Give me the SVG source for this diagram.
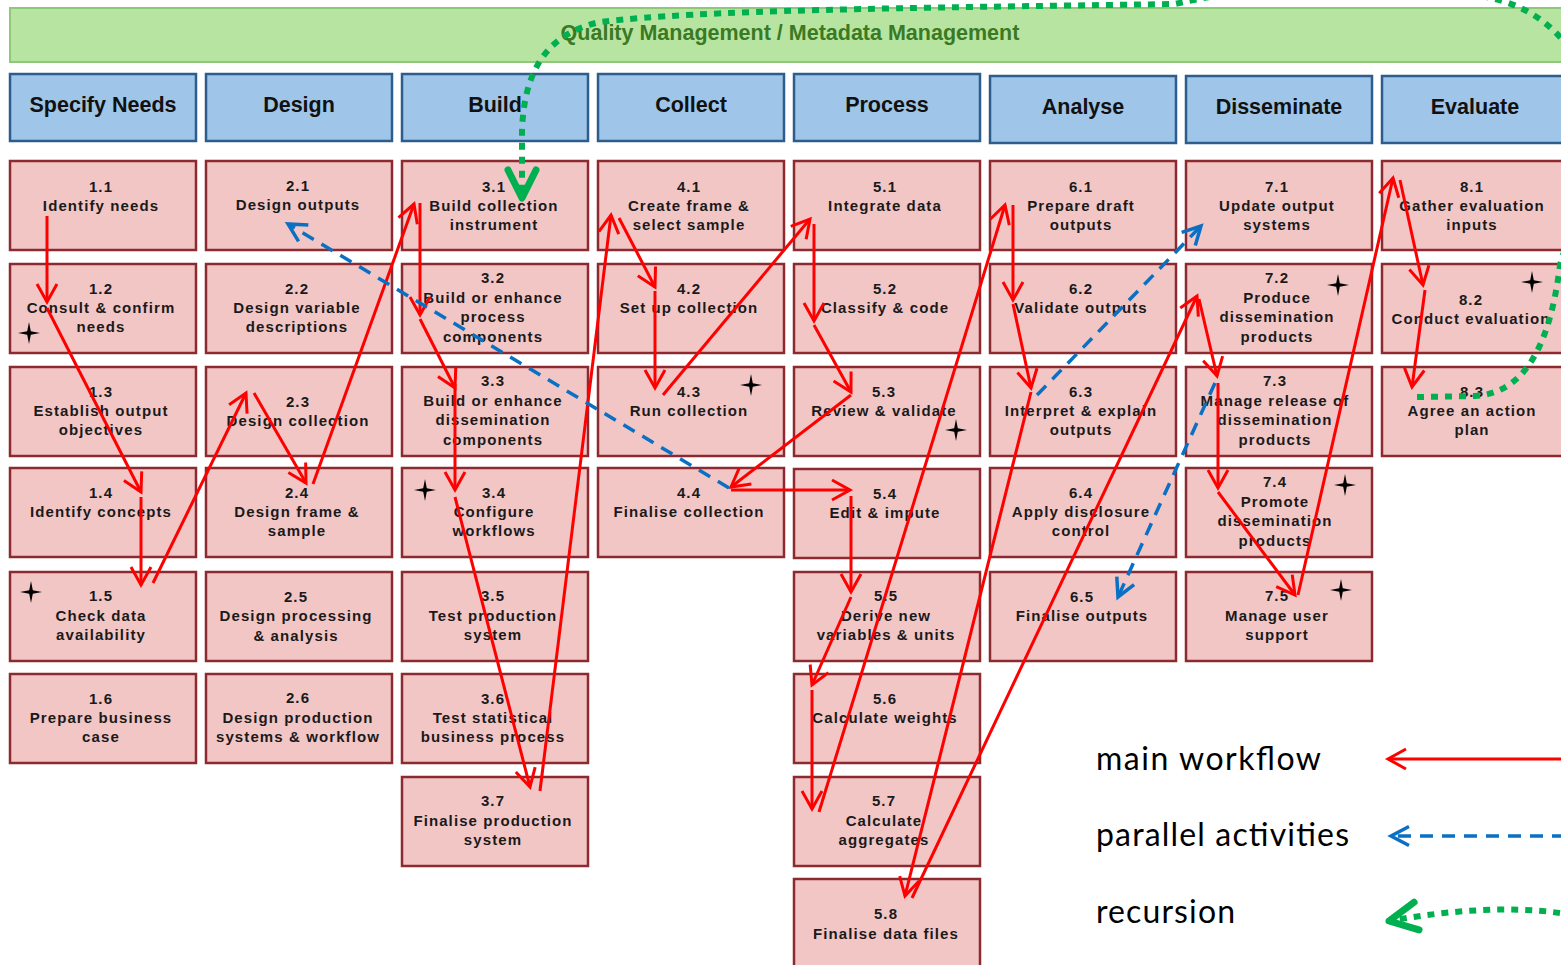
<svg xmlns="http://www.w3.org/2000/svg" width="1561" height="965" viewBox="0 0 1561 965">
<style>
.bar{fill:#b8e4a2;stroke:#8fc878;stroke-width:2}
.title{font-family:"Liberation Sans",Arial,sans-serif;font-weight:bold;font-size:21.5px;fill:#3a7a22;text-anchor:middle}
.hdr{fill:#9fc5e8;stroke:#2d5d8c;stroke-width:2.5}
.htx{font-family:"Liberation Sans",Arial,sans-serif;font-weight:bold;font-size:21.5px;fill:#111;text-anchor:middle}
.box{fill:#f3c6c6;stroke:#8c2a30;stroke-width:2.5}
.btx{font-family:"Liberation Sans",Arial,sans-serif;font-weight:bold;font-size:15px;letter-spacing:1.1px;fill:#1a1a1a;text-anchor:middle}
.star{fill:#000}
.red{fill:none;stroke:#ff0000;stroke-width:3;marker-end:url(#ar)}
.blue{fill:none;stroke:#0a70c4;stroke-width:3.5;stroke-dasharray:13 9;marker-end:url(#ab)}
.green{fill:none;stroke:#00b050;stroke-width:6;stroke-dasharray:7 7;marker-end:url(#ag)}
.leg{font-family:Lato,"Open Sans",sans-serif;font-size:32px;fill:#000}
</style>
<defs>
<marker id="ar" markerUnits="userSpaceOnUse" orient="auto" overflow="visible" markerWidth="1" markerHeight="1"><path d="M-18,-10 L0,0 L-18,10" fill="none" stroke="#ff0000" stroke-width="3"/></marker>
<marker id="ab" markerUnits="userSpaceOnUse" orient="auto" overflow="visible" markerWidth="1" markerHeight="1"><path d="M-18,-9.5 L0,0 L-18,9.5" fill="none" stroke="#0a70c4" stroke-width="3.5"/></marker>
<marker id="ag" markerUnits="userSpaceOnUse" orient="auto" overflow="visible" markerWidth="1" markerHeight="1"><path d="M-28,-14 L0,0 L-28,14" fill="none" stroke="#00b050" stroke-width="7" stroke-linecap="round" stroke-linejoin="round"/></marker>
<path id="st" d="M0,-11 L1.8,-1.8 L11,0 L1.8,1.8 L0,11 L-1.8,1.8 L-11,0 L-1.8,-1.8 Z"/>
</defs>
<rect width="1561" height="965" fill="#fff"/>

<g id="quality-bar">
<rect class="bar" x="10" y="8" width="1565" height="54"/>
<text class="title" x="790" y="40">Quality Management / Metadata Management</text>
</g>

<g id="phases">
<g id="h1"><rect class="hdr" x="10" y="74" width="186" height="67"/><text class="htx" x="103" y="112">Specify Needs</text></g>
<g id="h2"><rect class="hdr" x="206" y="74" width="186" height="67"/><text class="htx" x="299" y="112">Design</text></g>
<g id="h3"><rect class="hdr" x="402" y="74" width="186" height="67"/><text class="htx" x="495" y="112">Build</text></g>
<g id="h4"><rect class="hdr" x="598" y="74" width="186" height="67"/><text class="htx" x="691" y="112">Collect</text></g>
<g id="h5"><rect class="hdr" x="794" y="74" width="186" height="67"/><text class="htx" x="887" y="112">Process</text></g>
<g id="h6"><rect class="hdr" x="990" y="76" width="186" height="67"/><text class="htx" x="1083" y="114">Analyse</text></g>
<g id="h7"><rect class="hdr" x="1186" y="76" width="186" height="67"/><text class="htx" x="1279" y="114">Disseminate</text></g>
<g id="h8"><rect class="hdr" x="1382" y="76" width="186" height="67"/><text class="htx" x="1475" y="114">Evaluate</text></g>
</g>

<g id="n1-1"><rect class="box" x="10" y="161" width="186" height="89"/><text class="btx"><tspan x="101" y="192">1.1</tspan><tspan x="101" y="211">Identify needs</tspan></text></g>
<g id="n1-2"><rect class="box" x="10" y="264" width="186" height="89"/><text class="btx"><tspan x="101" y="294">1.2</tspan><tspan x="101" y="313">Consult &amp; confirm</tspan><tspan x="101" y="332">needs</tspan></text></g>
<g id="n1-3"><rect class="box" x="10" y="367" width="186" height="89"/><text class="btx"><tspan x="101" y="397">1.3</tspan><tspan x="101" y="416">Establish output</tspan><tspan x="101" y="435">objectives</tspan></text></g>
<g id="n1-4"><rect class="box" x="10" y="468" width="186" height="89"/><text class="btx"><tspan x="101" y="498">1.4</tspan><tspan x="101" y="517">Identify concepts</tspan></text></g>
<g id="n1-5"><rect class="box" x="10" y="572" width="186" height="89"/><text class="btx"><tspan x="101" y="601">1.5</tspan><tspan x="101" y="621">Check data</tspan><tspan x="101" y="640">availability</tspan></text></g>
<g id="n1-6"><rect class="box" x="10" y="674" width="186" height="89"/><text class="btx"><tspan x="101" y="704">1.6</tspan><tspan x="101" y="723">Prepare business</tspan><tspan x="101" y="742">case</tspan></text></g>

<g id="n2-1"><rect class="box" x="206" y="161" width="186" height="89"/><text class="btx"><tspan x="298" y="191">2.1</tspan><tspan x="298" y="210">Design outputs</tspan></text></g>
<g id="n2-2"><rect class="box" x="206" y="264" width="186" height="89"/><text class="btx"><tspan x="297" y="294">2.2</tspan><tspan x="297" y="313">Design variable</tspan><tspan x="297" y="332">descriptions</tspan></text></g>
<g id="n2-3"><rect class="box" x="206" y="367" width="186" height="89"/><text class="btx"><tspan x="298" y="407">2.3</tspan><tspan x="298" y="426">Design collection</tspan></text></g>
<g id="n2-4"><rect class="box" x="206" y="468" width="186" height="89"/><text class="btx"><tspan x="297" y="498">2.4</tspan><tspan x="297" y="517">Design frame &amp;</tspan><tspan x="297" y="536">sample</tspan></text></g>
<g id="n2-5"><rect class="box" x="206" y="572" width="186" height="89"/><text class="btx"><tspan x="296" y="602">2.5</tspan><tspan x="296" y="621">Design processing</tspan><tspan x="296" y="641">&amp; analysis</tspan></text></g>
<g id="n2-6"><rect class="box" x="206" y="674" width="186" height="89"/><text class="btx"><tspan x="298" y="703">2.6</tspan><tspan x="298" y="723">Design production</tspan><tspan x="298" y="742">systems &amp; workflow</tspan></text></g>

<g id="n3-1"><rect class="box" x="402" y="161" width="186" height="89"/><text class="btx"><tspan x="494" y="192">3.1</tspan><tspan x="494" y="211">Build collection</tspan><tspan x="494" y="230">instrument</tspan></text></g>
<g id="n3-2"><rect class="box" x="402" y="264" width="186" height="89"/><text class="btx"><tspan x="493" y="283">3.2</tspan><tspan x="493" y="303">Build or enhance</tspan><tspan x="493" y="322">process</tspan><tspan x="493" y="342">components</tspan></text></g>
<g id="n3-3"><rect class="box" x="402" y="367" width="186" height="89"/><text class="btx"><tspan x="493" y="386">3.3</tspan><tspan x="493" y="406">Build or enhance</tspan><tspan x="493" y="425">dissemination</tspan><tspan x="493" y="445">components</tspan></text></g>
<g id="n3-4"><rect class="box" x="402" y="468" width="186" height="89"/><text class="btx"><tspan x="494" y="498">3.4</tspan><tspan x="494" y="517">Configure</tspan><tspan x="494" y="536">workflows</tspan></text></g>
<g id="n3-5"><rect class="box" x="402" y="572" width="186" height="89"/><text class="btx"><tspan x="493" y="601">3.5</tspan><tspan x="493" y="621">Test production</tspan><tspan x="493" y="640">system</tspan></text></g>
<g id="n3-6"><rect class="box" x="402" y="674" width="186" height="89"/><text class="btx"><tspan x="493" y="704">3.6</tspan><tspan x="493" y="723">Test statistical</tspan><tspan x="493" y="742">business process</tspan></text></g>
<g id="n3-7"><rect class="box" x="402" y="777" width="186" height="89"/><text class="btx"><tspan x="493" y="806">3.7</tspan><tspan x="493" y="826">Finalise production</tspan><tspan x="493" y="845">system</tspan></text></g>

<g id="n4-1"><rect class="box" x="598" y="161" width="186" height="89"/><text class="btx"><tspan x="689" y="192">4.1</tspan><tspan x="689" y="211">Create frame &amp;</tspan><tspan x="689" y="230">select sample</tspan></text></g>
<g id="n4-2"><rect class="box" x="598" y="264" width="186" height="89"/><text class="btx"><tspan x="689" y="294">4.2</tspan><tspan x="689" y="313">Set up collection</tspan></text></g>
<g id="n4-3"><rect class="box" x="598" y="367" width="186" height="89"/><text class="btx"><tspan x="689" y="397">4.3</tspan><tspan x="689" y="416">Run collection</tspan></text></g>
<g id="n4-4"><rect class="box" x="598" y="468" width="186" height="89"/><text class="btx"><tspan x="689" y="498">4.4</tspan><tspan x="689" y="517">Finalise collection</tspan></text></g>

<g id="n5-1"><rect class="box" x="794" y="161" width="186" height="89"/><text class="btx"><tspan x="885" y="192">5.1</tspan><tspan x="885" y="211">Integrate data</tspan></text></g>
<g id="n5-2"><rect class="box" x="794" y="264" width="186" height="89"/><text class="btx"><tspan x="885" y="294">5.2</tspan><tspan x="885" y="313">Classify &amp; code</tspan></text></g>
<g id="n5-3"><rect class="box" x="794" y="367" width="186" height="89"/><text class="btx"><tspan x="884" y="397">5.3</tspan><tspan x="884" y="416">Review &amp; validate</tspan></text></g>
<g id="n5-4"><rect class="box" x="794" y="469" width="186" height="89"/><text class="btx"><tspan x="885" y="499">5.4</tspan><tspan x="885" y="518">Edit &amp; impute</tspan></text></g>
<g id="n5-5"><rect class="box" x="794" y="572" width="186" height="89"/><text class="btx"><tspan x="886" y="601">5.5</tspan><tspan x="886" y="621">Derive new</tspan><tspan x="886" y="640">variables &amp; units</tspan></text></g>
<g id="n5-6"><rect class="box" x="794" y="674" width="186" height="89"/><text class="btx"><tspan x="885" y="704">5.6</tspan><tspan x="885" y="723">Calculate weights</tspan></text></g>
<g id="n5-7"><rect class="box" x="794" y="777" width="186" height="89"/><text class="btx"><tspan x="884" y="806">5.7</tspan><tspan x="884" y="826">Calculate</tspan><tspan x="884" y="845">aggregates</tspan></text></g>
<g id="n5-8"><rect class="box" x="794" y="879" width="186" height="89"/><text class="btx"><tspan x="886" y="919">5.8</tspan><tspan x="886" y="939">Finalise data files</tspan></text></g>

<g id="n6-1"><rect class="box" x="990" y="161" width="186" height="89"/><text class="btx"><tspan x="1081" y="192">6.1</tspan><tspan x="1081" y="211">Prepare draft</tspan><tspan x="1081" y="230">outputs</tspan></text></g>
<g id="n6-2"><rect class="box" x="990" y="264" width="186" height="89"/><text class="btx"><tspan x="1081" y="294">6.2</tspan><tspan x="1081" y="313">Validate outputs</tspan></text></g>
<g id="n6-3"><rect class="box" x="990" y="367" width="186" height="89"/><text class="btx"><tspan x="1081" y="397">6.3</tspan><tspan x="1081" y="416">Interpret &amp; explain</tspan><tspan x="1081" y="435">outputs</tspan></text></g>
<g id="n6-4"><rect class="box" x="990" y="468" width="186" height="89"/><text class="btx"><tspan x="1081" y="498">6.4</tspan><tspan x="1081" y="517">Apply disclosure</tspan><tspan x="1081" y="536">control</tspan></text></g>
<g id="n6-5"><rect class="box" x="990" y="572" width="186" height="89"/><text class="btx"><tspan x="1082" y="602">6.5</tspan><tspan x="1082" y="621">Finalise outputs</tspan></text></g>

<g id="n7-1"><rect class="box" x="1186" y="161" width="186" height="89"/><text class="btx"><tspan x="1277" y="192">7.1</tspan><tspan x="1277" y="211">Update output</tspan><tspan x="1277" y="230">systems</tspan></text></g>
<g id="n7-2"><rect class="box" x="1186" y="264" width="186" height="89"/><text class="btx"><tspan x="1277" y="283">7.2</tspan><tspan x="1277" y="303">Produce</tspan><tspan x="1277" y="322">dissemination</tspan><tspan x="1277" y="342">products</tspan></text></g>
<g id="n7-3"><rect class="box" x="1186" y="367" width="186" height="89"/><text class="btx"><tspan x="1275" y="386">7.3</tspan><tspan x="1275" y="406">Manage release of</tspan><tspan x="1275" y="425">dissemination</tspan><tspan x="1275" y="445">products</tspan></text></g>
<g id="n7-4"><rect class="box" x="1186" y="468" width="186" height="89"/><text class="btx"><tspan x="1275" y="487">7.4</tspan><tspan x="1275" y="507">Promote</tspan><tspan x="1275" y="526">dissemination</tspan><tspan x="1275" y="546">products</tspan></text></g>
<g id="n7-5"><rect class="box" x="1186" y="572" width="186" height="89"/><text class="btx"><tspan x="1277" y="601">7.5</tspan><tspan x="1277" y="621">Manage user</tspan><tspan x="1277" y="640">support</tspan></text></g>

<g id="n8-1"><rect class="box" x="1382" y="161" width="186" height="89"/><text class="btx"><tspan x="1472" y="192">8.1</tspan><tspan x="1472" y="211">Gather evaluation</tspan><tspan x="1472" y="230">inputs</tspan></text></g>
<g id="n8-2"><rect class="box" x="1382" y="264" width="186" height="89"/><text class="btx"><tspan x="1471" y="305">8.2</tspan><tspan x="1471" y="324">Conduct evaluation</tspan></text></g>
<g id="n8-3"><rect class="box" x="1382" y="367" width="186" height="89"/><text class="btx"><tspan x="1472" y="397">8.3</tspan><tspan x="1472" y="416">Agree an action</tspan><tspan x="1472" y="435">plan</tspan></text></g>

<g id="stars" class="star">
<use href="#st" x="29" y="333"/>
<use href="#st" x="31" y="592"/>
<use href="#st" x="425" y="490"/>
<use href="#st" x="751" y="385"/>
<use href="#st" x="956" y="430"/>
<use href="#st" x="1338" y="285"/>
<use href="#st" x="1345" y="485"/>
<use href="#st" x="1341" y="590"/>
<use href="#st" x="1532" y="282"/>
</g>

<g id="connectors">
<path class="red" d="M47,216 L47,302"/>
<path class="red" d="M47,308 L141,492"/>
<path class="red" d="M141,497 L141,585"/>
<path class="red" d="M153,583 L246,393"/>
<path class="red" d="M254,393 L306,483"/>
<path class="red" d="M313,484 L414,204"/>
<path class="red" d="M420,203 L420,315"/>
<path class="red" d="M420,319 L455,388"/>
<path class="red" d="M455,384 L455,490"/>
<path class="red" d="M455,497 L530,787"/>
<path class="red" d="M540,791 L611,215"/>
<path class="red" d="M619,218 L655,287"/>
<path class="red" d="M655,291 L655,388"/>
<path class="red" d="M663,395 L810,219"/>
<path class="red" d="M814,224 L814,321"/>
<path class="red" d="M814,325 L851,392"/>
<path class="red" d="M851,395 L731,487"/>
<path class="red" d="M731,490 L850,490"/>
<path class="red" d="M851,496 L851,592"/>
<path class="red" d="M851,597 L812,685"/>
<path class="red" d="M812,690 L812,809"/>
<path class="red" d="M819,812 L1005,205"/>
<path class="red" d="M1013,205 L1013,300"/>
<path class="red" d="M1013,304 L1031,388"/>
<path class="red" d="M1031,392 L905,896"/>
<path class="red" d="M912,898 L1197,296"/>
<path class="red" d="M1199,299 L1217,376"/>
<path class="red" d="M1218,383 L1218,488"/>
<path class="red" d="M1218,492 L1295,595"/>
<path class="red" d="M1298,595 L1393,178"/>
<path class="red" d="M1400,180 L1423,285"/>
<path class="red" d="M1425,290 L1412,387"/>
<path class="blue" d="M729,488 L288,224"/>
<path class="blue" d="M1037,395 L1201,226"/>
<path class="blue" d="M1215,383 L1118,597"/>
<path class="green" d="M1417,397 L1475,396 C1525,393 1550,345 1560,265 C1590,170 1590,70 1560,37 C1540,15 1515,3 1490,-2 C1420,-24 1280,-20 1175,4 C900,8 700,10 600,22 C540,35 524,80 522,130 L522,198"/>
</g>

<g id="legend">
<text class="leg" x="1096" y="770" textLength="225">main workflow</text>
<text class="leg" x="1096" y="846" textLength="253">parallel activities</text>
<text class="leg" x="1096" y="923" textLength="139">recursion</text>
<path class="red" d="M1565,759 L1388,759"/>
<path class="blue" d="M1565,836 L1391,836"/>
<path class="green" d="M1560,913 C1510,906 1450,910 1389,921"/>
</g>
</svg>
